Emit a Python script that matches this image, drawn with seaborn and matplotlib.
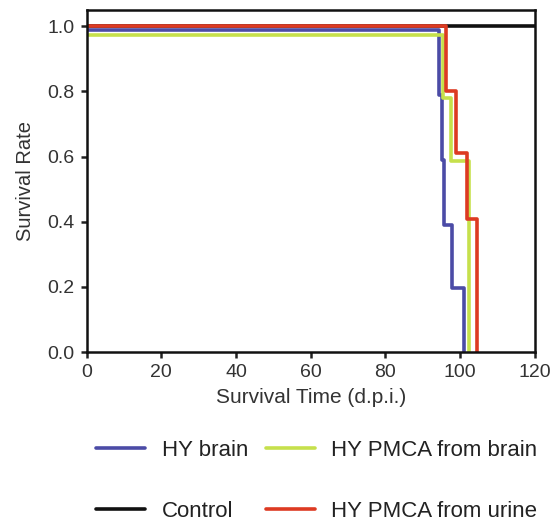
import matplotlib
matplotlib.use("Agg")
import matplotlib.pyplot as plt
import seaborn as sns
import pandas as pd
from matplotlib.lines import Line2D

# Data (Kaplan-Meier style step curves)
ctrl_t = [0, 120]
ctrl_s = [1.0, 1.0]
brain_t = [0, 94.3, 95.2, 95.7, 97.9, 101.1]
brain_s = [0.988, 0.79, 0.59, 0.39, 0.197, 0.0]
pmca_brain_t = [0, 95.3, 97.5, 102.4]
pmca_brain_s = [0.972, 0.78, 0.587, 0.0]
pmca_urine_t = [0, 96.2, 98.8, 101.7, 104.6]
pmca_urine_s = [1.0, 0.80, 0.61, 0.41, 0.0]

groups = ["Control", "HY brain", "HY PMCA from brain", "HY PMCA from urine"]
colors = {"Control": "#111111", "HY brain": "#4b4ba6",
          "HY PMCA from brain": "#c6e04c", "HY PMCA from urine": "#dd3a22"}

rows = []
for g, t, s in [("Control", ctrl_t, ctrl_s), ("HY brain", brain_t, brain_s),
                ("HY PMCA from brain", pmca_brain_t, pmca_brain_s),
                ("HY PMCA from urine", pmca_urine_t, pmca_urine_s)]:
    for ti, si in zip(t, s):
        rows.append({"time": ti, "surv": si, "group": g})
df = pd.DataFrame(rows)

sns.set_style("ticks")
plt.rcParams['font.family'] = ['Liberation Sans', 'DejaVu Sans']

fig = plt.figure(figsize=(5.52, 5.24), dpi=100)
ax = fig.add_axes([0.157, 0.328, 0.812, 0.653])

for g in groups:
    sub = df[df["group"] == g]
    sns.lineplot(data=sub, x="time", y="surv", color=colors[g], ax=ax,
                 drawstyle="steps-post", estimator=None, sort=False,
                 linewidth=2.6, legend=False)

ax.set_xlim(0, 120)
ax.set_ylim(0, 1.05)
ax.set_xticks([0, 20, 40, 60, 80, 100, 120])
ax.set_yticks([0.0, 0.2, 0.4, 0.6, 0.8, 1.0])
ax.set_yticklabels(["0.0", "0.2", "0.4", "0.6", "0.8", "1.0"])
ax.tick_params(direction="out", length=4.5, width=1.8, labelsize=14,
               colors="#222222", labelcolor="#333333", pad=4)
for sp in ax.spines.values():
    sp.set_linewidth(1.8)
    sp.set_color("#111111")
ax.set_xlabel("Survival Time (d.p.i.)", fontsize=15, color="#333333", labelpad=5)
ax.set_ylabel("Survival Rate", fontsize=14.5, color="#333333", labelpad=9)

handles = [Line2D([], [], color=colors["HY brain"], lw=2.6),
           Line2D([], [], color=colors["Control"], lw=2.6),
           Line2D([], [], color=colors["HY PMCA from brain"], lw=2.6),
           Line2D([], [], color=colors["HY PMCA from urine"], lw=2.6)]
labels = ["HY brain", "Control", "HY PMCA from brain", "HY PMCA from urine"]
leg = fig.legend(handles, labels, ncol=2, loc="upper left",
                 bbox_to_anchor=(96 / 552, 1 - 440 / 524), frameon=False,
                 fontsize=16, handlelength=2.2, handletextpad=0.75,
                 columnspacing=0.8, labelspacing=1.8, borderpad=0,
                 borderaxespad=0)
for t in leg.get_texts():
    t.set_color("#222222")

fig.savefig("out.png", dpi=100)
